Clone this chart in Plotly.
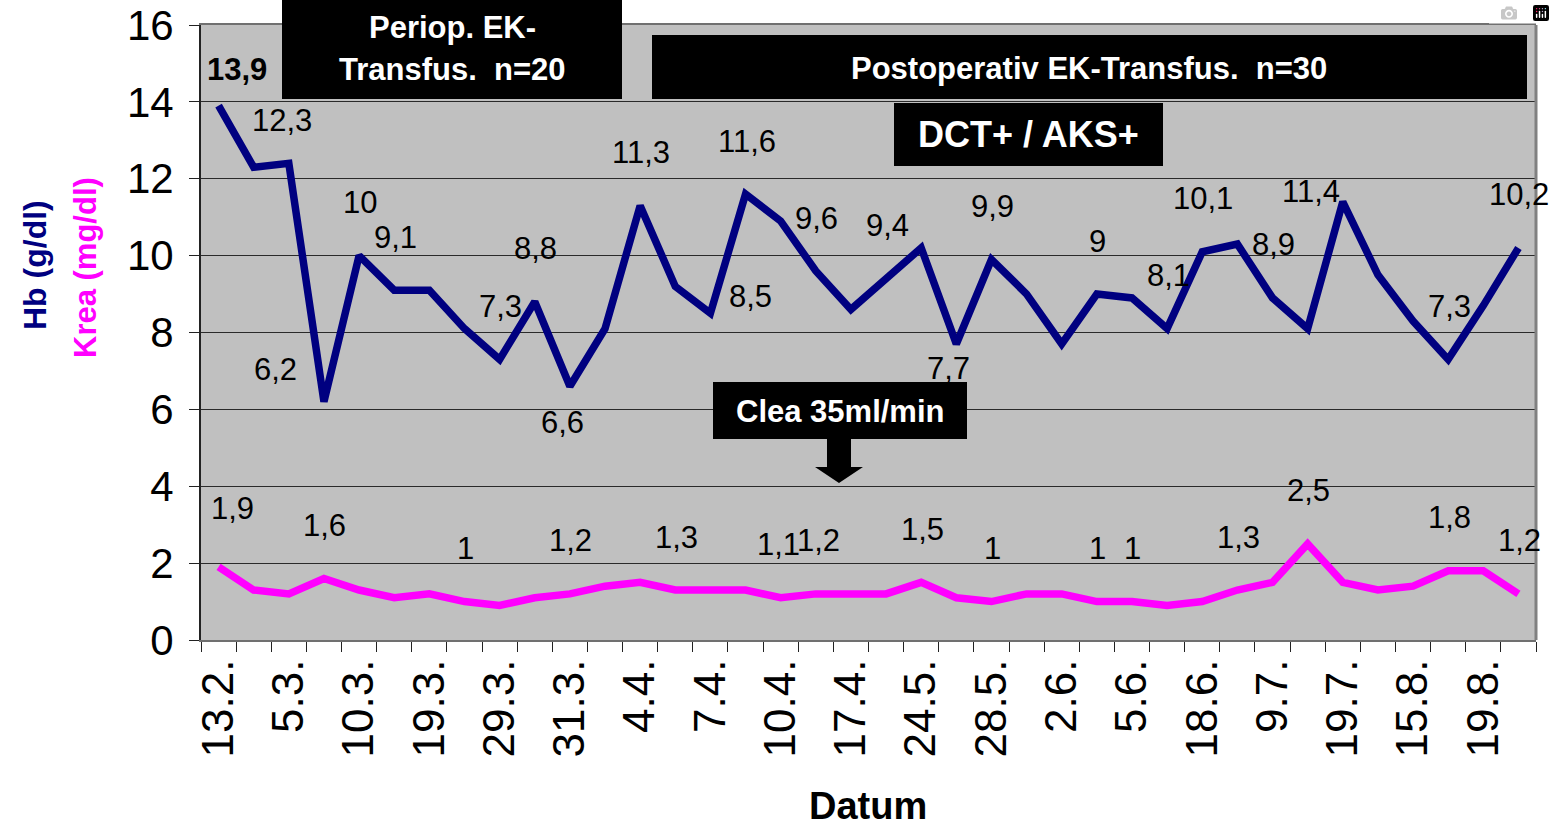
import plotly.graph_objects as go

# ---------------- data ----------------
dates = ["13.2.", "5.3.", "10.3.", "19.3.", "29.3.", "31.3.", "4.4.", "7.4.",
         "10.4.", "17.4.", "24.5.", "28.5.", "2.6.", "5.6.", "18.6.", "9.7.",
         "19.7.", "15.8.", "19.8."]
label_every = 2

hb = [13.9, 12.3, 12.4, 6.2, 10.0, 9.1, 9.1, 8.1, 7.3, 8.8, 6.6, 8.1, 11.3,
      9.2, 8.5, 11.6, 10.9, 9.6, 8.6, 9.4, 10.2, 7.7, 9.9, 9.0, 7.7, 9.0,
      8.9, 8.1, 10.1, 10.3, 8.9, 8.1, 11.4, 9.5, 8.3, 7.3, 8.7, 10.2]
krea = [1.9, 1.3, 1.2, 1.6, 1.3, 1.1, 1.2, 1.0, 0.9, 1.1, 1.2, 1.4, 1.5,
        1.3, 1.3, 1.3, 1.1, 1.2, 1.2, 1.2, 1.5, 1.1, 1.0, 1.2, 1.2, 1.0,
        1.0, 0.9, 1.0, 1.3, 1.5, 2.5, 1.5, 1.3, 1.4, 1.8, 1.8, 1.2]

hb_labelled = [0, 1, 3, 4, 5, 8, 9, 10, 12, 14, 15, 17, 19, 21, 22, 25, 27,
               28, 30, 32, 35, 37]
krea_labelled = [0, 3, 7, 10, 13, 16, 17, 20, 22, 25, 26, 29, 31, 35, 37]

# label offsets in pixels (dx, dy; dy negative = above the point)
hb_offsets = {0: (18, -36), 1: (28, -47), 3: (-48, -32), 10: (-7, 36),
              14: (40, -17), 21: (-8, 24), 32: (-32, -10)}
krea_offsets = {0: (14, -58), 16: (-2, -53), 17: (3, -53)}
default_offset = (1, -53)

x_idx = list(range(len(hb)))

# ---------------- geometry helpers ----------------
L, R, T, B = 201, 1536, 25, 640
W, H = 1555, 830


def px(x):
    return (x - L) / (R - L)


def py(y):
    return (B - y) / (B - T)


def fmt(v):
    s = ("%.1f" % v).rstrip("0").rstrip(".")
    return s.replace(".", ",")


FONT = "Liberation Sans, Arial, sans-serif"
NAVY = "#000080"
MAGENTA = "#FF00FF"

fig = go.Figure()
fig.add_trace(go.Scatter(x=x_idx, y=krea, mode="lines",
                         line=dict(color=MAGENTA, width=7.5),
                         name="Krea", hoverinfo="y"))
fig.add_trace(go.Scatter(x=x_idx, y=hb, mode="lines",
                         line=dict(color=NAVY, width=7.5),
                         name="Hb", hoverinfo="y"))

annotations = []
for i in hb_labelled:
    dx, dy = hb_offsets.get(i, default_offset)
    txt = fmt(hb[i])
    if i == 0:
        txt = "<b>" + txt + "</b>"
    annotations.append(dict(
        x=i, y=hb[i], xref="x", yref="y", text=txt, showarrow=False,
        xshift=dx, yshift=-dy, xanchor="center", yanchor="middle",
        font=dict(family=FONT, size=31, color="black"),
    ))
for i in krea_labelled:
    dx, dy = krea_offsets.get(i, default_offset)
    annotations.append(dict(
        x=i, y=krea[i], xref="x", yref="y", text=fmt(krea[i]), showarrow=False,
        xshift=dx, yshift=-dy, xanchor="center", yanchor="middle",
        font=dict(family=FONT, size=31, color="black"),
    ))

# black boxes
boxes = [
    (282, 0, 622, 99),
    (652, 35, 1527, 99),
    (894, 103, 1163, 166),
    (713, 382, 967, 439),
]
shapes = []
for x0, y0, x1, y1 in boxes:
    shapes.append(dict(type="rect", xref="paper", yref="paper",
                       x0=px(x0), x1=px(x1), y0=py(y1), y1=py(y0),
                       fillcolor="black", line=dict(width=0), layer="above"))

# block arrow under the Clea box
arrow_pts = [(827, 439), (851, 439), (851, 467), (863, 467), (839, 483),
             (815, 467), (827, 467)]
path = "M " + " L ".join("%.5f,%.5f" % (px(a), py(b)) for a, b in arrow_pts) + " Z"
shapes.append(dict(type="path", xref="paper", yref="paper", path=path,
                   fillcolor="black", line=dict(width=0), layer="above"))

# right border of plot area
shapes.append(dict(type="line", xref="paper", yref="paper", x0=1, x1=1,
                   y0=0, y1=1, line=dict(color="#808080", width=3),
                   layer="above"))

box_texts = [
    ("<b>Periop. EK-</b>", 452, 27, 31),
    ("<b>Transfus.\u00a0 n=20</b>", 452, 70, 31),
    ("<b>Postoperativ EK-Transfus.\u00a0 n=30</b>", 1089, 68, 31),
    ("<b>DCT+ / AKS+</b>", 1028, 134, 36),
    ("<b>Clea 35ml/min</b>", 840, 411, 31),
]
for txt, cx, cy, size in box_texts:
    annotations.append(dict(
        x=px(cx), y=py(cy), xref="paper", yref="paper", text=txt,
        showarrow=False, xanchor="center", yanchor="middle",
        font=dict(family=FONT, size=size, color="white"),
    ))

# axis titles
annotations.append(dict(x=px(868), y=py(806), xref="paper", yref="paper",
                        text="<b>Datum</b>", showarrow=False,
                        xanchor="center", yanchor="middle",
                        font=dict(family=FONT, size=38, color="black")))
annotations.append(dict(x=px(35), y=py(265), xref="paper", yref="paper",
                        text="<b>Hb (g/dl)</b>", showarrow=False, textangle=-90,
                        xanchor="center", yanchor="middle",
                        font=dict(family=FONT, size=32, color=NAVY)))
annotations.append(dict(x=px(85), y=py(268), xref="paper", yref="paper",
                        text="<b>Krea (mg/dl)</b>", showarrow=False, textangle=-90,
                        xanchor="center", yanchor="middle",
                        font=dict(family=FONT, size=31, color=MAGENTA)))

tickvals = [i * label_every for i in range(len(dates))]

fig.update_layout(
    width=W, height=H, autosize=False,
    margin=dict(l=L, r=W - R, t=T, b=H - B, pad=0, autoexpand=False),
    paper_bgcolor="white", plot_bgcolor="#C0C0C0",
    showlegend=False,
    font=dict(family=FONT, color="black"),
    annotations=annotations, shapes=shapes,
    xaxis=dict(
        range=[-0.5, len(hb) - 0.5], tickmode="array",
        tickvals=tickvals, ticktext=dates, tickangle=-90,
        tickfont=dict(family=FONT, size=44, color="black"),
        ticks="", showgrid=False, zeroline=False,
        showline=True, linecolor="#707070", linewidth=2, mirror=True,
        ticklabelstandoff=0, automargin=False,
        minor=dict(tickmode="linear", tick0=-0.5, dtick=1, ticks="outside",
                   ticklen=10, tickwidth=1.2, tickcolor="#222",
                   showgrid=False),
        fixedrange=True,
    ),
    yaxis=dict(
        range=[0, 16], tickmode="linear", tick0=0, dtick=2,
        tickfont=dict(family=FONT, size=42, color="black"),
        ticks="outside", ticklen=10, tickwidth=1.2, tickcolor="#222",
        showgrid=True, gridcolor="#2a2a2a", gridwidth=1.2,
        zeroline=False, showline=True, linecolor="#222", linewidth=2,
        ticklabelstandoff=7, automargin=False, fixedrange=True,
    ),
)

fig.write_html("out.html", post_script="document.body.style.margin='0';")
